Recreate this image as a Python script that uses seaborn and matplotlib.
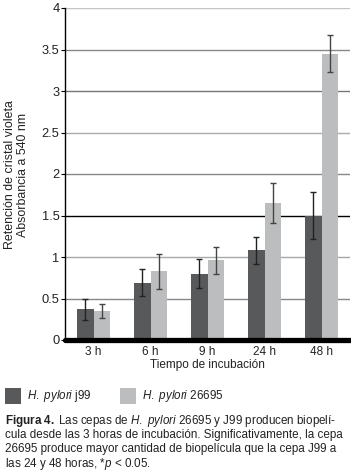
import matplotlib
matplotlib.use("Agg")
import matplotlib.pyplot as plt
import seaborn as sns
import pandas as pd
import numpy as np
from matplotlib.patches import Rectangle

categories = ["3 h", "6 h", "9 h", "24 h", "48 h"]
series_names = ["H. pylori j99", "H. pylori 26695"]
j99_values = [0.37, 0.69, 0.80, 1.08, 1.50]
j99_err = [0.13, 0.16, 0.17, 0.16, 0.28]
s26695_values = [0.35, 0.83, 0.96, 1.65, 3.45]
s26695_err = [0.08, 0.21, 0.165, 0.24, 0.225]
yticks = [0, 0.5, 1, 1.5, 2, 2.5, 3, 3.5, 4]
ytick_labels = ["0", "0.5", "1", "1.5", "2", "2.5", "3", "3.5", "4"]

sns.set_theme(style="white")
plt.rcParams["font.family"] = ["Liberation Sans", "DejaVu Sans"]
plt.rcParams["mathtext.fontset"] = "custom"
plt.rcParams["mathtext.rm"] = "Liberation Sans"
plt.rcParams["mathtext.it"] = "Liberation Sans:italic"
plt.rcParams["mathtext.bf"] = "Liberation Sans:bold"

df = pd.DataFrame({
    "Tiempo": categories * 2,
    "Cepa": [series_names[0]] * 5 + [series_names[1]] * 5,
    "Abs": j99_values + s26695_values,
    "Err": j99_err + s26695_err,
})

colors = ["#58595b", "#bcbdbf"]
W, H = 351, 474
fig = plt.figure(figsize=(W / 100, H / 100), dpi=100)
ax = fig.add_axes([65 / W, 1 - 340 / H, (350 - 65) / W, (340 - 8) / H])

sns.barplot(data=df, x="Tiempo", y="Abs", hue="Cepa", order=categories,
            hue_order=series_names, palette=colors, errorbar=None,
            width=0.58, saturation=1, legend=False, ax=ax, zorder=3,
            linewidth=0)

# error bars from bar positions
bars = [p for p in ax.patches if isinstance(p, Rectangle)][:10]
errs = j99_err + s26695_err
vals = j99_values + s26695_values
ecols = ["#222222"] * 5 + ["#444444"] * 5
for p, v, e, c in zip(bars, vals, errs, ecols):
    xc = p.get_x() + p.get_width() / 2
    ax.errorbar(xc, v, yerr=e, fmt="none", ecolor=c, elinewidth=1.0,
                capsize=2.2, capthick=1.0, zorder=4)

ax.set_ylim(0, 4)
ax.set_xlim(-0.5, 4.5)
ax.set_yticks(yticks)
ax.set_yticklabels(ytick_labels, fontsize=9.3, color="#222222")
ax.tick_params(axis="y", length=3, width=0.8, color="black", pad=1, left=True)
ax.tick_params(axis="x", length=0, labelsize=8.5, labelcolor="#222222", pad=4)

grid_colors = ["#888888", "#a8a8a8", "black", "#888888", "#aaaaaa",
               "#777777", "#888888", "#c4c4c4"]
for yv, gc in zip(yticks[1:], grid_colors):
    ax.axhline(yv, color=gc, linewidth=1.0, zorder=1)

for s in ["top", "right"]:
    ax.spines[s].set_visible(False)
ax.spines["left"].set_color("black")
ax.spines["left"].set_linewidth(1.0)
ax.spines["bottom"].set_visible(False)
ax.axhline(0, color="black", linewidth=3.8, zorder=5, clip_on=False)

ax.set_xlabel("Tiempo de incubación", fontsize=8.5, color="#222222", labelpad=1)
ax.set_ylabel("")
fig.text(16.5 / W, 1 - 175 / H, "Retención de cristal violeta\nAbsorbancia a 540 nm",
         rotation=90, ha="center", va="center", multialignment="center",
         fontsize=8.9, color="#222222", linespacing=1.05)

# legend
for i, (x0, lab) in enumerate([(5, r"$\it{H.\ pylori}$ j99"), (120, r"$\it{H.\ pylori}$ 26695")]):
    fig.patches.append(Rectangle((x0 / W, 1 - 404 / H), 16 / W, 16 / H,
                                 transform=fig.transFigure, facecolor=colors[i],
                                 edgecolor="none"))
    fig.text((x0 + 22) / W, 1 - 396 / H, lab, ha="left", va="center",
             fontsize=8.4, color="#222222")

caption = [
    r"$\bf{Figura\ 4.}\;$Las cepas de $\it{H.\ pylori}$ 26695 y J99 producen biopelí-",
    r"cula desde las 3 horas de incubación. Significativamente, la cepa",
    r"26695 produce mayor cantidad de biopelícula que la cepa J99 a",
    r"las 24 y 48 horas, *$\it{p}$ < 0.05.",
]
for i, line in enumerate(caption):
    fig.text(5 / W, 1 - (421 + i * 14.2) / H, line, ha="left", va="center",
             fontsize=8.35, color="#222222")

fig.savefig("out.png", dpi=100)
